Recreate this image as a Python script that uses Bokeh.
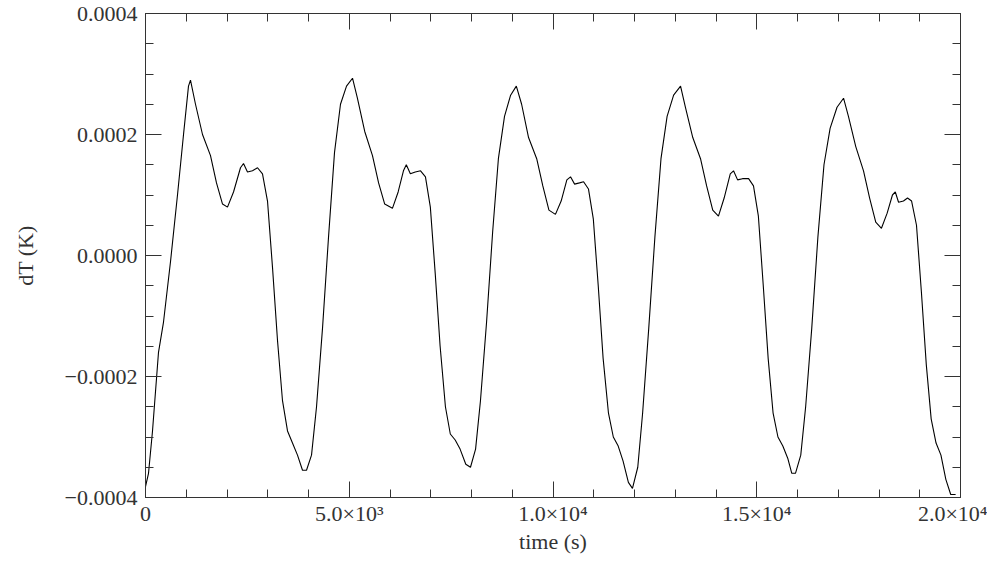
from bokeh.plotting import figure
from bokeh.models import LinearAxis, Range1d, FixedTicker, CustomJSTickFormatter
from bokeh.embed import file_html
from bokeh.resources import INLINE

# time (s) and temperature perturbation (units of 1e-4 K)
time = [0, 74, 172, 319, 442, 614, 785, 933, 1055, 1104, 1227, 1399, 1595, 1742, 1890, 2012,
        2160, 2331, 2405, 2503, 2626, 2749, 2871, 2994, 3117, 3239, 3362, 3485, 3607, 3730,
        3853, 3951, 4074, 4197, 4344, 4491, 4638, 4785, 4933, 5080,
        5200, 5380, 5570, 5720, 5870, 6060, 6200, 6330, 6400, 6500, 6620, 6750, 6870, 6990,
        7110, 7230, 7360, 7480, 7600, 7720, 7860, 7975, 8100, 8220, 8370, 8520, 8660, 8810,
        8960, 9100,
        9230, 9400, 9600, 9750, 9900, 10060, 10200, 10340, 10430, 10530, 10650, 10750, 10870,
        10990, 11110, 11230, 11360, 11480, 11600, 11720, 11850, 11950, 12080, 12200, 12350,
        12500, 12650, 12800, 12960, 13130,
        13250, 13430, 13620, 13770, 13920, 14060, 14200, 14350, 14430, 14530, 14650, 14800,
        14920, 15040, 15160, 15280, 15400, 15520, 15640, 15760, 15860, 15950, 16080, 16200,
        16350, 16500, 16650, 16800, 16970, 17130,
        17250, 17430, 17620, 17770, 17920, 18060, 18200, 18330, 18400, 18480, 18600, 18700,
        18800, 18920, 19040, 19160, 19280, 19400, 19520, 19640, 19760, 19880, 19950, 20000]
dT = [-3.82, -3.6, -2.9, -1.6, -1.1, -0.1, 1.0, 2.0, 2.8, 2.9, 2.5, 2.0, 1.65, 1.2, 0.85, 0.8,
      1.05, 1.45, 1.52, 1.38, 1.4, 1.45, 1.35, 0.9, -0.2, -1.4, -2.4, -2.9, -3.1, -3.3,
      -3.55, -3.55, -3.3, -2.5, -1.2, 0.3, 1.7, 2.5, 2.8, 2.93,
      2.6, 2.05, 1.65, 1.2, 0.85, 0.78, 1.05, 1.4, 1.5, 1.35, 1.38, 1.4, 1.3, 0.8,
      -0.3, -1.5, -2.5, -2.95, -3.05, -3.2, -3.45, -3.5, -3.2, -2.4, -1.1, 0.4, 1.6, 2.3,
      2.65, 2.8,
      2.5, 1.95, 1.6, 1.15, 0.75, 0.68, 0.9, 1.25, 1.3, 1.18, 1.2, 1.22, 1.1, 0.6,
      -0.5, -1.7, -2.6, -3.0, -3.15, -3.4, -3.75, -3.85, -3.5, -2.6, -1.2, 0.3, 1.6, 2.3,
      2.65, 2.8,
      2.45, 1.95, 1.6, 1.15, 0.75, 0.65, 0.95, 1.35, 1.4, 1.25, 1.27, 1.27, 1.15, 0.65,
      -0.5, -1.7, -2.6, -3.0, -3.15, -3.35, -3.6, -3.6, -3.3, -2.5, -1.2, 0.3, 1.5, 2.1,
      2.45, 2.6,
      2.3, 1.8, 1.4, 0.95, 0.55, 0.45, 0.7, 1.0, 1.05, 0.88, 0.9, 0.95, 0.9, 0.5,
      -0.6, -1.8, -2.7, -3.1, -3.3, -3.7, -3.95, -3.95]
dT_K = [v * 1e-4 for v in dT]

x_ticks = [0, 5000, 10000, 15000, 20000]
x_labels = {0: "0", 5000: "5.0×10³", 10000: "1.0×10⁴", 15000: "1.5×10⁴", 20000: "2.0×10⁴"}
y_ticks = [-0.0004, -0.0002, 0.0, 0.0002, 0.0004]

FONT = "Liberation Serif"
GREY = "#333333"

p = figure(width=987, height=556, output_backend="svg", toolbar_location=None,
           x_range=Range1d(0, 20000), y_range=Range1d(-0.0004, 0.0004),
           min_border_left=145, min_border_right=27, min_border_top=13, min_border_bottom=53,
           x_axis_label="time (s)", y_axis_label="dT (K)")
p.grid.visible = False
p.outline_line_color = None
p.line(time, dT_K, line_color="black", line_width=1.1)

fmt = CustomJSTickFormatter(args=dict(lab={str(k): v for k, v in x_labels.items()}),
                            code="return lab[String(Math.round(tick))] || '';")
yfmt = CustomJSTickFormatter(code="return tick.toFixed(4).replace('-', '\u2212');")

def style(ax, ticks, minor):
    ax.ticker = FixedTicker(ticks=ticks, minor_ticks=minor)
    ax.axis_line_color = GREY
    ax.major_tick_line_color = GREY
    ax.minor_tick_line_color = GREY
    ax.major_tick_in = 16
    ax.major_tick_out = 0
    ax.minor_tick_in = 8
    ax.minor_tick_out = 0
    ax.major_label_text_font = FONT
    ax.major_label_text_font_size = "22px"
    ax.major_label_text_color = GREY
    ax.axis_label_text_font = FONT
    ax.axis_label_text_font_size = "22px"
    ax.axis_label_text_font_style = "normal"
    ax.axis_label_text_color = GREY

x_minor = list(range(0, 20001, 1000))
y_minor = [i * 0.00005 for i in range(-8, 9)]

style(p.xaxis[0], x_ticks, x_minor)
p.xaxis[0].formatter = fmt
p.xaxis[0].major_label_standoff = 3
p.xaxis[0].axis_label_standoff = 0
style(p.yaxis[0], y_ticks, y_minor)
p.yaxis[0].formatter = yfmt
p.yaxis[0].major_label_standoff = 8
p.yaxis[0].axis_label_standoff = 24

blank = CustomJSTickFormatter(code="return '';")
top = LinearAxis(formatter=blank, major_label_standoff=0)
style(top, x_ticks, x_minor)
p.add_layout(top, "above")
right = LinearAxis(formatter=blank, major_label_standoff=0)
style(right, y_ticks, y_minor)
p.add_layout(right, "right")

open("out.html", "w").write(file_html(p, INLINE))
